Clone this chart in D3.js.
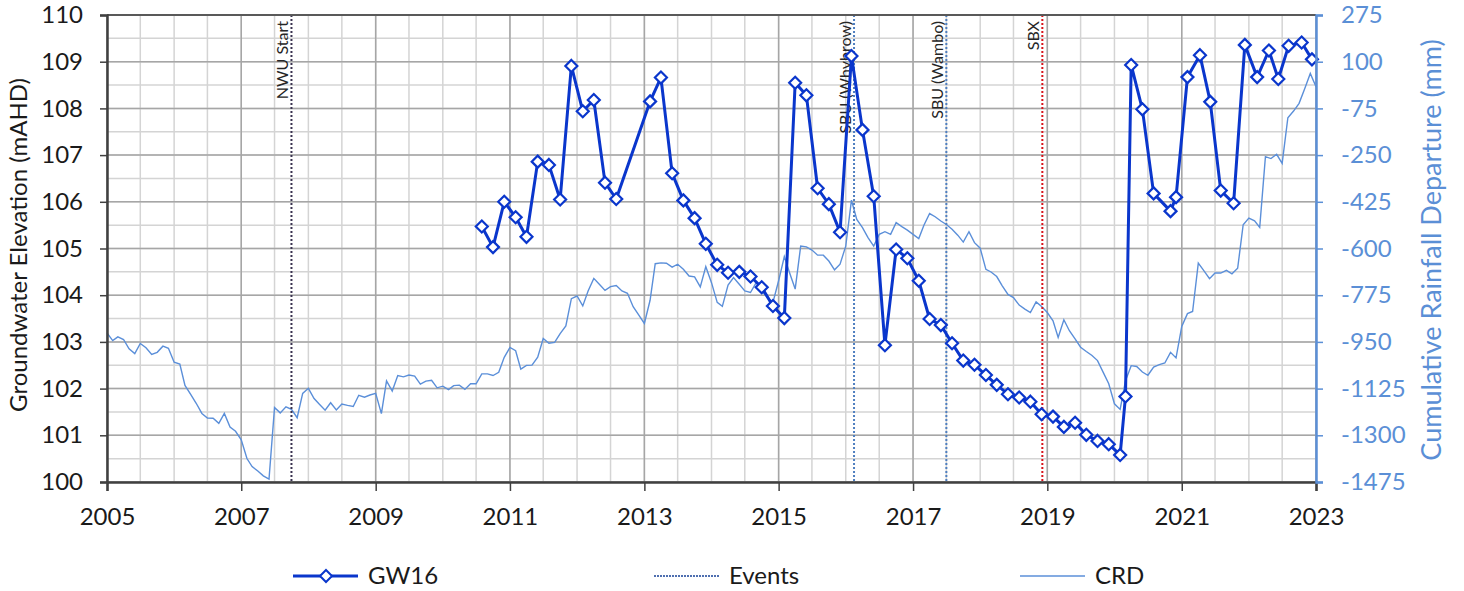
<!DOCTYPE html>
<html>
<head>
<meta charset="utf-8">
<script src="https://cdn.jsdelivr.net/npm/d3@7"></script>
<style>
  body { margin: 0; background: #fff; }
  text { font-family: Lato, "Open Sans", sans-serif; }
</style>
</head>
<body>
<div id="chart"></div>
<script>
// GW16 groundwater level (mAHD)
const gwDates = ["2010-08-01","2010-10-01","2010-12-01","2011-02-01","2011-04-01","2011-06-01","2011-08-01","2011-10-01","2011-12-01",
  "2012-02-01","2012-04-01","2012-06-01","2012-08-01","2013-02-01","2013-04-01","2013-06-01","2013-08-01","2013-10-01","2013-12-01",
  "2014-02-01","2014-04-01","2014-06-01","2014-08-01","2014-10-01","2014-12-01","2015-02-01","2015-04-01","2015-06-01","2015-08-01",
  "2015-10-01","2015-12-01","2016-02-01","2016-04-01","2016-06-01","2016-08-01","2016-10-01","2016-12-01","2017-02-01","2017-04-01",
  "2017-06-01","2017-08-01","2017-10-01","2017-12-01","2018-02-01","2018-04-01","2018-06-01","2018-08-01","2018-10-01","2018-12-01",
  "2019-02-01","2019-04-01","2019-06-01","2019-08-01","2019-10-01","2019-12-01","2020-02-01","2020-03-01","2020-04-01","2020-06-01",
  "2020-08-01","2020-11-01","2020-12-01","2021-02-01","2021-04-10","2021-06-05","2021-08-01","2021-10-10","2021-12-10","2022-02-15",
  "2022-04-20","2022-06-10","2022-08-05","2022-10-15","2022-12-10"];
const gwLevels = [105.47,105.03,106.0,105.67,105.25,106.86,106.79,106.05,108.91,
  107.94,108.18,106.41,106.06,108.15,108.66,106.61,106.03,105.65,105.10,
  104.65,104.48,104.50,104.40,104.17,103.77,103.51,108.55,108.28,106.29,
  105.95,105.35,109.12,107.54,106.12,102.93,104.98,104.79,104.31,103.49,
  103.36,102.97,102.60,102.51,102.29,102.08,101.88,101.81,101.72,101.45,
  101.40,101.18,101.27,101.01,100.88,100.81,100.58,101.83,108.93,107.98,
  106.18,105.80,106.10,108.67,109.14,108.14,106.24,105.97,109.36,108.67,
  109.24,108.63,109.34,109.41,109.05];

// cumulative rainfall departure (mm), monthly from Jan 2005
const crdStart = "2005-01-01";
const crdValues = [
  -916,-945,-931,-941,-976,-994,-956,-972,-997,-989,-966,-974,
  -1026,-1033,-1113,-1147,-1180,-1218,-1235,-1236,-1255,-1218,-1269,-1285,
  -1317,-1387,-1417,-1434,-1452,-1464,-1196,-1216,-1193,-1203,-1234,-1143,
  -1124,-1162,-1184,-1206,-1178,-1205,-1183,-1188,-1192,-1150,-1157,-1149,
  -1143,-1219,-1096,-1134,-1076,-1081,-1074,-1078,-1108,-1097,-1094,-1122,
  -1116,-1129,-1114,-1112,-1128,-1107,-1107,-1070,-1070,-1076,-1064,-1008,
  -971,-983,-1052,-1038,-1037,-1007,-937,-955,-952,-919,-890,-788,
  -778,-815,-759,-712,-734,-757,-743,-739,-759,-768,-818,-849,
  -881,-794,-657,-654,-655,-670,-659,-678,-703,-706,-744,-668,
  -728,-802,-817,-737,-709,-734,-759,-765,-728,-759,-784,-802,
  -721,-630,-690,-752,-591,-594,-606,-625,-625,-647,-680,-659,
  -591,-419,-491,-522,-559,-591,-547,-537,-547,-503,-518,-531,
  -547,-563,-513,-469,-481,-497,-510,-528,-550,-576,-537,-578,
  -599,-678,-688,-705,-740,-772,-784,-812,-827,-840,-800,-817,
  -840,-871,-933,-867,-908,-939,-970,-986,-1001,-1020,-1064,-1107,
  -1182,-1203,-1096,-1039,-1042,-1063,-1075,-1044,-1035,-1029,-989,-1010,
  -892,-844,-836,-655,-683,-713,-692,-692,-682,-695,-674,-511,
  -486,-496,-521,-256,-263,-247,-281,-110,-85,-56,0,56,
  6];

const eventNames = ["NWU Start", "SBU (Whybrow)", "SBU (Wambo)", "SBX"];
const eventDates = ["2007-10-01", "2016-02-15", "2017-07-01", "2018-12-05"];

const yearTicks = [2005, 2007, 2009, 2011, 2013, 2015, 2017, 2019, 2021, 2023];
const leftTicks = [100, 101, 102, 103, 104, 105, 106, 107, 108, 109, 110];
const rightTicks = [275, 100, -75, -250, -425, -600, -775, -950, -1125, -1300, -1475];

const legendLabels = ["GW16", "Events", "CRD"];

// styles
const gwColor = "#0a36cc";
const crdColor = "#5b8fd9";
const rightColor = "#5b8fd6";
const eventColors = { "NWU Start": "#3a3350", "SBU (Whybrow)": "#4f7fc0", "SBU (Wambo)": "#4f7fc0", "SBX": "#d9141b" };
const fontSize = 24;

const width = 1464, height = 591;
const margin = { left: 107, right: 148, top: 15, bottom: 109 };
const plotW = width - margin.left - margin.right;
const plotH = height - margin.top - margin.bottom;

const parse = d3.timeParse("%Y-%m-%d");

const svg = d3.select("#chart").append("svg")
  .attr("width", width)
  .attr("height", height);

const x = d3.scaleTime()
  .domain([new Date(2005, 0, 1), new Date(2023, 0, 1)])
  .range([margin.left, margin.left + plotW]);
const y = d3.scaleLinear()
  .domain([100, 110])
  .range([margin.top + plotH, margin.top]);
const yR = d3.scaleLinear()
  .domain([-1475, 275])
  .range([margin.top + plotH, margin.top]);

// grid: minor first, then major
const minorX = d3.timeMonth.every(6).range(x.domain()[0], d3.timeDay.offset(x.domain()[1], 1));
const minorY = d3.range(100, 110.01, 0.5);

svg.append("g")
  .selectAll("line")
  .data(minorX)
  .join("line")
  .attr("x1", d => x(d)).attr("x2", d => x(d))
  .attr("y1", margin.top).attr("y2", margin.top + plotH)
  .attr("stroke", "#d4d4d4").attr("stroke-width", 1.5);

svg.append("g")
  .selectAll("line")
  .data(minorY)
  .join("line")
  .attr("x1", margin.left).attr("x2", margin.left + plotW)
  .attr("y1", d => y(d)).attr("y2", d => y(d))
  .attr("stroke", "#d4d4d4").attr("stroke-width", 1.5);

svg.append("g")
  .selectAll("line")
  .data(yearTicks)
  .join("line")
  .attr("x1", d => x(new Date(d, 0, 1))).attr("x2", d => x(new Date(d, 0, 1)))
  .attr("y1", margin.top).attr("y2", margin.top + plotH)
  .attr("stroke", "#a6a6a6").attr("stroke-width", 1.5);

svg.append("g")
  .selectAll("line")
  .data(leftTicks)
  .join("line")
  .attr("x1", margin.left).attr("x2", margin.left + plotW)
  .attr("y1", d => y(d)).attr("y2", d => y(d))
  .attr("stroke", "#a6a6a6").attr("stroke-width", 1.5);

// CRD
const crdData = crdValues.map((v, i) => ({ date: d3.timeMonth.offset(parse(crdStart), i), value: v }));
svg.append("path")
  .datum(crdData)
  .attr("fill", "none")
  .attr("stroke", crdColor)
  .attr("stroke-width", 1.4)
  .attr("d", d3.line().x(d => x(d.date)).y(d => yR(d.value)));

// events
const events = eventNames.map((n, i) => ({ name: n, date: parse(eventDates[i]) }));
const ev = svg.append("g");
ev.selectAll("line")
  .data(events)
  .join("line")
  .attr("x1", d => x(d.date)).attr("x2", d => x(d.date))
  .attr("y1", margin.top).attr("y2", margin.top + plotH)
  .attr("stroke", d => eventColors[d.name])
  .attr("stroke-width", 2)
  .attr("stroke-dasharray", "2,2");
ev.selectAll("text")
  .data(events)
  .join("text")
  .attr("transform", d => `translate(${x(d.date) - 3},${margin.top + 6}) rotate(-90)`)
  .attr("text-anchor", "end")
  .attr("font-size", 16)
  .attr("fill", "#262626")
  .text(d => d.name);

// GW16
const gwData = gwDates.map((d, i) => ({ date: parse(d), value: gwLevels[i] }));
svg.append("path")
  .datum(gwData)
  .attr("fill", "none")
  .attr("stroke", gwColor)
  .attr("stroke-width", 3)
  .attr("stroke-linejoin", "round")
  .attr("d", d3.line().x(d => x(d.date)).y(d => y(d.value)));

const diamond = "M0,-6L6,0L0,6L-6,0Z";
svg.append("g")
  .selectAll("path")
  .data(gwData)
  .join("path")
  .attr("transform", d => `translate(${x(d.date)},${y(d.value)})`)
  .attr("d", diamond)
  .attr("fill", "#fff")
  .attr("stroke", gwColor)
  .attr("stroke-width", 2.2);

// frame top
svg.append("line")
  .attr("x1", margin.left).attr("x2", margin.left + plotW)
  .attr("y1", margin.top).attr("y2", margin.top)
  .attr("stroke", "#595959").attr("stroke-width", 2);

// axes
const xAxis = svg.append("g")
  .attr("transform", `translate(0,${margin.top + plotH})`)
  .call(d3.axisBottom(x)
    .tickValues(yearTicks.map(d => new Date(d, 0, 1)))
    .tickFormat(d3.timeFormat("%Y"))
    .tickSize(9)
    .tickPadding(17));
xAxis.select(".domain").attr("stroke", "#404040").attr("stroke-width", 2.5);
xAxis.selectAll(".tick line").attr("stroke", "#404040").attr("stroke-width", 1.5);
xAxis.selectAll("text").attr("font-size", fontSize).attr("fill", "#1a1a1a")
  .style("font-family", "Lato, sans-serif");

const yAxis = svg.append("g")
  .attr("transform", `translate(${margin.left},0)`)
  .call(d3.axisLeft(y).tickValues(leftTicks).tickFormat(d => String(d)).tickSize(7).tickPadding(17));
yAxis.select(".domain").attr("stroke", "#404040").attr("stroke-width", 2.5);
yAxis.selectAll(".tick line").attr("stroke", "#404040").attr("stroke-width", 1.5);
yAxis.selectAll("text").attr("font-size", fontSize).attr("fill", "#1a1a1a")
  .style("font-family", "Lato, sans-serif");

const yRAxis = svg.append("g")
  .attr("transform", `translate(${margin.left + plotW},0)`)
  .call(d3.axisRight(yR).tickValues(rightTicks).tickFormat(d => String(d)).tickSize(7).tickPadding(18));
yRAxis.select(".domain").attr("stroke", rightColor).attr("stroke-width", 2.5);
yRAxis.selectAll(".tick line").attr("stroke", rightColor).attr("stroke-width", 1.5);
yRAxis.selectAll("text").attr("font-size", fontSize).attr("fill", rightColor)
  .style("font-family", "Lato, sans-serif");

// axis titles
svg.append("text")
  .attr("transform", "translate(27,245) rotate(-90)")
  .attr("text-anchor", "middle")
  .attr("font-size", fontSize)
  .attr("fill", "#1a1a1a")
  .text("Groundwater Elevation (mAHD)");

svg.append("text")
  .attr("transform", "translate(1441,250) rotate(-90)")
  .attr("text-anchor", "middle")
  .attr("font-size", 27)
  .attr("fill", rightColor)
  .text("Cumulative Rainfall Departure (mm)");

// legend
const legY = 576;
const legX = [293, 654, 1020];
const leg = svg.append("g");

leg.append("line")
  .attr("x1", legX[0]).attr("x2", legX[0] + 65)
  .attr("y1", legY).attr("y2", legY)
  .attr("stroke", gwColor).attr("stroke-width", 3);
leg.append("path")
  .attr("transform", `translate(${legX[0] + 33},${legY})`)
  .attr("d", diamond)
  .attr("fill", "#fff").attr("stroke", gwColor).attr("stroke-width", 2);

leg.append("line")
  .attr("x1", legX[1]).attr("x2", legX[1] + 66)
  .attr("y1", legY).attr("y2", legY)
  .attr("stroke", "#4f6fb0").attr("stroke-width", 2).attr("stroke-dasharray", "2,1");

leg.append("line")
  .attr("x1", legX[2]).attr("x2", legX[2] + 65)
  .attr("y1", legY).attr("y2", legY)
  .attr("stroke", crdColor).attr("stroke-width", 1.5);

leg.selectAll("text")
  .data(legendLabels)
  .join("text")
  .attr("x", (d, i) => legX[i] + 75)
  .attr("y", legY + 8)
  .attr("font-size", fontSize)
  .attr("fill", "#1a1a1a")
  .text(d => d);
</script>
</body>
</html>
